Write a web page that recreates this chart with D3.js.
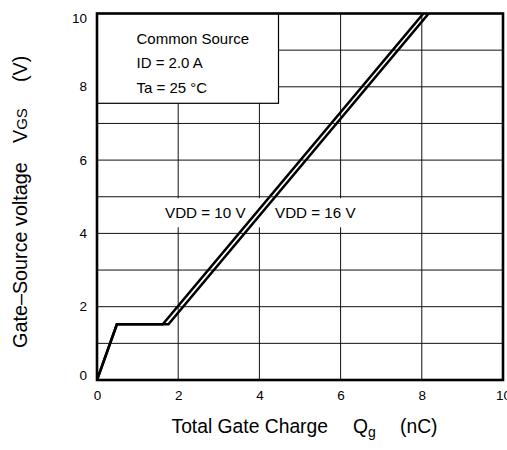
<!DOCTYPE html>
<html>
<head>
<meta charset="utf-8">
<script src="https://cdn.jsdelivr.net/npm/d3@7"></script>
<style>
  html, body { margin: 0; padding: 0; background: #fff; }
  svg { display: block; font-family: "Liberation Sans", Arial, sans-serif; }
</style>
</head>
<body>
<svg id="chart" width="507" height="450"></svg>
<script>
// ---- data ----
const xTicks = [0, 2, 4, 6, 8, 10];
const yTicks = [0, 2, 4, 6, 8, 10];
const xGrid = [2, 4, 6, 8];
const yGrid = [1, 2, 3, 4, 5, 6, 7, 8, 9];
const seriesNames = ["VDD = 10 V", "VDD = 16 V"];
const vdd10Q = [0, 0.49, 1.62, 8.04];
const vdd10V = [0, 1.52, 1.52, 10];
const vdd16Q = [0, 0.49, 1.76, 8.17];
const vdd16V = [0, 1.52, 1.52, 10];
const conditions = ["Common Source", "ID = 2.0 A", "Ta = 25 °C"];

// ---- layout ----
const svg = d3.select("#chart");
const L = 97, R = 503, T = 13.5, B = 380;
const x = d3.scaleLinear().domain([0, 10]).range([L, R]);
const y = d3.scaleLinear().domain([0, 10]).range([B, T]);

svg.append("defs").append("clipPath").attr("id", "plot")
  .append("rect").attr("x", L).attr("y", T).attr("width", R - L).attr("height", B - T);

// grid
const g = svg.append("g");
g.selectAll(".vg").data(xGrid).join("line")
  .attr("x1", d => x(d)).attr("x2", d => x(d)).attr("y1", T).attr("y2", B)
  .attr("stroke", "#111").attr("stroke-width", 1);
g.selectAll(".hg").data(yGrid).join("line")
  .attr("x1", L).attr("x2", R).attr("y1", d => y(d)).attr("y2", d => y(d))
  .attr("stroke", "#111").attr("stroke-width", 1);

// white background behind VDD labels
svg.append("rect").attr("x", 150).attr("y", y(5) + 1.5)
  .attr("width", 215).attr("height", 29).attr("fill", "#fff");

// condition box
svg.append("rect").attr("x", L).attr("y", T).attr("width", 278.5 - L).attr("height", 103.3 - T)
  .attr("fill", "#fff").attr("stroke", "#000").attr("stroke-width", 1.2);
svg.selectAll(".cond").data(conditions).join("text")
  .attr("x", 136.5).attr("y", (d, i) => 43.5 + i * 24.5)
  .attr("font-size", 15).attr("fill", "#000").text(d => d);

// curves
const line = d3.line().x(d => x(d[0])).y(d => y(d[1]));
const curves = [d3.zip(vdd10Q, vdd10V), d3.zip(vdd16Q, vdd16V)];
svg.append("g").attr("clip-path", "url(#plot)")
  .selectAll("path").data(curves).join("path")
  .attr("d", line).attr("fill", "none").attr("stroke", "#000")
  .attr("stroke-width", 2.6).attr("stroke-linejoin", "miter");

// VDD labels
svg.append("text").attr("x", 165).attr("y", 217.5).attr("font-size", 15.2).text(seriesNames[0]);
svg.append("text").attr("x", 275).attr("y", 217.5).attr("font-size", 15.2).text(seriesNames[1]);

// frame
svg.append("rect").attr("x", L).attr("y", T).attr("width", R - L).attr("height", B - T)
  .attr("fill", "none").attr("stroke", "#000").attr("stroke-width", 2.6);

// axes tick labels
const xAxis = d3.axisBottom(x).tickValues(xTicks).tickSize(0).tickPadding(0).tickFormat(d3.format("d"));
const xa = svg.append("g").attr("transform", `translate(0,${B})`).call(xAxis);
xa.select(".domain").remove();
xa.selectAll("text").attr("font-size", 13.5).attr("font-family", "Liberation Sans, Arial, sans-serif")
  .attr("fill", "#000").attr("dy", null).attr("y", 19.5);

const yAxis = d3.axisLeft(y).tickValues(yTicks).tickSize(0).tickPadding(10).tickFormat(d3.format("d"));
const ya = svg.append("g").attr("transform", `translate(${L},0)`).call(yAxis);
ya.select(".domain").remove();
ya.selectAll("text").attr("font-size", 13.5).attr("font-family", "Liberation Sans, Arial, sans-serif")
  .attr("fill", "#000")
  .attr("dy", d => d === 0 ? "-0.05em" : d === 10 ? "0.68em" : "0.3em");

// x axis title
const xt = svg.append("g").attr("font-size", 19.3).attr("fill", "#000");
xt.append("text").attr("x", 171.5).attr("y", 433).text("Total Gate Charge");
const q = xt.append("text").attr("x", 353).attr("y", 433);
q.append("tspan").text("Q");
q.append("tspan").attr("font-size", 14).attr("dy", 4).text("g");
xt.append("text").attr("x", 400).attr("y", 433).text("(nC)");

// y axis title
const yt = svg.append("g").attr("transform", "translate(27,0) rotate(-90)").attr("font-size", 19.8).attr("fill", "#000");
yt.append("text").attr("x", -348).attr("y", 0).text("Gate–Source voltage");
const v = yt.append("text").attr("x", -143).attr("y", 0);
v.append("tspan").text("V");
v.append("tspan").attr("font-size", 15).text("GS");
yt.append("text").attr("x", -82).attr("y", 0).text("(V)");
</script>
</body>
</html>
